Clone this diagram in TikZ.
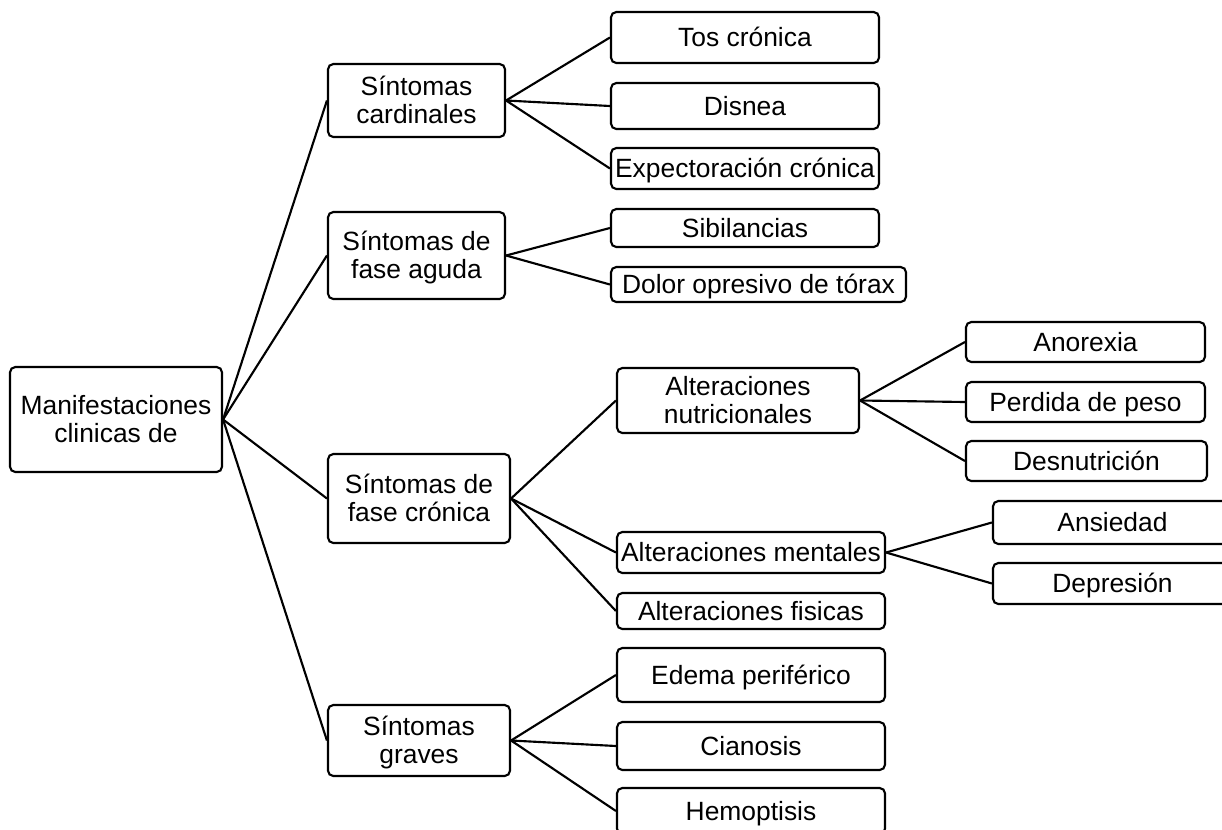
\documentclass[tikz,border=0pt]{standalone}
\usepackage{fontspec}
\setmainfont{Liberation Sans}
\begin{document}
\begin{tikzpicture}[x=0.75pt,y=-0.75pt,
  every node/.style={font=\fontsize{19.8}{21}\selectfont},
  frame/.style={draw, line width=1.6pt, rounded corners=4pt, fill=white,
    inner sep=0pt},
  box/.style={frame, align=center, text height=35.2pt, text depth=0pt},
  oneline/.style={frame, text height=14.2pt, text depth=0pt},
  sz/.style 2 args={minimum width=#1*0.75pt, minimum height=#2*0.75pt},
  link/.style={line width=1.6pt}]
\useasboundingbox (0,0) rectangle (1222,829);
\clip (0,0) rectangle (1222,829);

% root
\node[box, sz={212}{105}] (root) at (116,419.5) {Manifestaciones\\clinicas de};

% first level
\node[box, sz={177}{73}] (card) at (416.5,100.5) {Síntomas\\cardinales};
\node[box, sz={177}{87}] (aguda) at (416.5,255.5) {Síntomas de\\fase aguda};
\node[box, sz={182}{89}] (cron) at (419,498.5) {Síntomas de\\fase crónica};
\node[box, sz={182}{71}] (graves) at (419,740.5) {Síntomas\\graves};

% second level
\node[oneline, sz={268}{51}] (tos) at (745,37.5) {Tos crónica};
\node[oneline, sz={268}{46}] (disnea) at (745,106) {Disnea};
\node[oneline, sz={268}{41}] (expect) at (745,168.5) {Expectoración crónica};
\node[oneline, sz={268}{38}] (sibil) at (745,228) {Sibilancias};
\node[oneline, sz={295}{35}] (dolor) at (758.5,284.5) {Dolor opresivo de tórax};
\node[box, sz={242}{65}] (altnut) at (738,400.5) {Alteraciones\\nutricionales};
\node[oneline, sz={268}{41}] (altment) at (751,552.5) {Alteraciones mentales};
\node[oneline, sz={268}{36}] (altfis) at (751,611) {Alteraciones fisicas};
\node[oneline, sz={268}{54}] (edema) at (751,675) {Edema periférico};
\node[oneline, sz={268}{48}] (cianosis) at (751,746) {Cianosis};
\node[oneline, sz={268}{46}] (hemop) at (751,811) {Hemoptisis};

% third level
\node[oneline, sz={239}{40}] (anorexia) at (1085.5,342) {Anorexia};
\node[oneline, sz={239}{40}] (perdida) at (1085.5,402) {Perdida de peso};
\node[oneline, sz={241}{40}] (desnut) at (1086.5,461) {Desnutrición};
\node[oneline, sz={239}{43}] (ansiedad) at (1112.5,522.5) {Ansiedad};
\node[oneline, sz={239}{41}] (depresion) at (1112.5,583.5) {Depresión};

% connectors
\foreach \a/\b in {root/card, root/aguda, root/cron, root/graves,
  card/tos, card/disnea, card/expect, aguda/sibil, aguda/dolor,
  cron/altnut, cron/altment, cron/altfis,
  graves/edema, graves/cianosis, graves/hemop,
  altnut/anorexia, altnut/perdida, altnut/desnut,
  altment/ansiedad, altment/depresion}
  \draw[link] (\a.east) -- (\b.west);
\end{tikzpicture}
\end{document}
